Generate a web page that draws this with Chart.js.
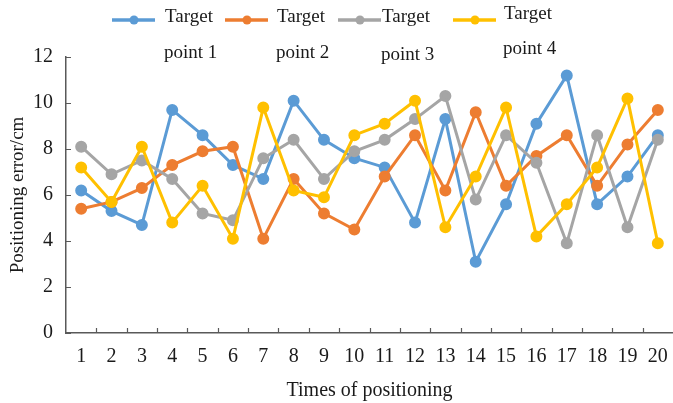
<!DOCTYPE html>
<html>
<head>
<meta charset="utf-8">
<script src="https://cdn.jsdelivr.net/npm/chart.js@4/dist/chart.umd.min.js"></script>
<style>
  html, body { margin: 0; padding: 0; background: #ffffff; }
  #wrap { width: 673px; height: 403px; }
</style>
</head>
<body>
<div id="wrap"><canvas id="c" width="673" height="403"></canvas></div>
<script>
// ---- data ----
const categories = ['1','2','3','4','5','6','7','8','9','10','11','12','13','14','15','16','17','18','19','20'];
const seriesNames = ['Target point 1', 'Target point 2', 'Target point 3', 'Target point 4'];
const target1 = [6.2, 5.3, 4.7, 9.7, 8.6, 7.3, 6.7, 10.1, 8.4, 7.6, 7.2, 4.8, 9.3, 3.1, 5.6, 9.1, 11.2, 5.6, 6.8, 8.6];
const target2 = [5.4, 5.7, 6.3, 7.3, 7.9, 8.1, 4.1, 6.7, 5.2, 4.5, 6.8, 8.6, 6.2, 9.6, 6.4, 7.7, 8.6, 6.4, 8.2, 9.7];
const target3 = [8.1, 6.9, 7.5, 6.7, 5.2, 4.9, 7.6, 8.4, 6.7, 7.9, 8.4, 9.3, 10.3, 5.8, 8.6, 7.4, 3.9, 8.6, 4.6, 8.4];
const target4 = [7.2, 5.7, 8.1, 4.8, 6.4, 4.1, 9.8, 6.2, 5.9, 8.6, 9.1, 10.1, 4.6, 6.8, 9.8, 4.2, 5.6, 7.2, 10.2, 3.9];
const yTicks = [0, 2, 4, 6, 8, 10, 12];
const xTitle = 'Times of positioning';
const yTitle = 'Positioning error/cm';

// ---- style ----
const colors = ['#5B9BD5', '#ED7D31', '#A5A5A5', '#FFC000'];
const FONT = '"Liberation Serif", "Times New Roman", serif';
const TXT = '#1a1a1a';
const AXIS = '#595959';
const legendLineX = [112, 225, 338, 453];
const legendTextX = [165, 277, 382, 504];
const legendRow1Y = [17, 17, 17, 14];
const legendRow2Y = [53, 53, 55, 49];

const seriesValues = [target1, target2, target3, target4];
const datasets = seriesValues.map((vals, i) => ({
  label: seriesNames[i],
  data: vals,
  borderColor: colors[i],
  backgroundColor: colors[i],
  pointBackgroundColor: colors[i],
  pointBorderColor: colors[i],
  borderWidth: 3,
  pointRadius: 4.5,
  pointHoverRadius: 4.5,
  tension: 0,
  clip: false,
  order: 3 - i
}));

const inwardTicks = {
  id: 'inwardTicks',
  afterDatasetsDraw(chart) {
    const ctx = chart.ctx;
    const x = chart.scales.x, y = chart.scales.y;
    const area = chart.chartArea;
    ctx.save();
    ctx.strokeStyle = AXIS;
    ctx.lineWidth = 1.2;
    ctx.beginPath();
    yTicks.forEach(v => {
      const py = Math.round(y.getPixelForValue(v)) + 0.5;
      ctx.moveTo(area.left, py);
      ctx.lineTo(area.left + 5, py);
    });
    for (let i = 0; i < categories.length - 1; i++) {
      const px = Math.round((x.getPixelForValue(i) + x.getPixelForValue(i + 1)) / 2) + 0.5;
      ctx.moveTo(px, area.bottom);
      ctx.lineTo(px, area.bottom - 5);
    }
    ctx.stroke();
    ctx.restore();
  }
};

const customLegend = {
  id: 'customLegend',
  afterDraw(chart) {
    const ctx = chart.ctx;
    ctx.save();
    chart.data.datasets.forEach((ds, i) => {
      const lx = legendLineX[i];
      const ly = 20;
      ctx.strokeStyle = ds.borderColor;
      ctx.lineWidth = 3.5;
      ctx.beginPath();
      ctx.moveTo(lx, ly);
      ctx.lineTo(lx + 43, ly);
      ctx.stroke();
      ctx.fillStyle = ds.borderColor;
      ctx.beginPath();
      ctx.arc(lx + 22, ly, 4.5, 0, Math.PI * 2);
      ctx.fill();
      const name = ds.label;
      const cut = name.indexOf(' ');
      const l1 = name.slice(0, cut), l2 = name.slice(cut + 1);
      ctx.fillStyle = TXT;
      ctx.font = '19px ' + FONT;
      ctx.textAlign = 'left';
      ctx.textBaseline = 'middle';
      ctx.fillText(l1, legendTextX[i], legendRow1Y[i]);
      ctx.fillText(l2, legendTextX[i] - 1, legendRow2Y[i]);
    });
    ctx.restore();
  }
};

new Chart(document.getElementById('c'), {
  type: 'line',
  data: { labels: categories, datasets },
  options: {
    responsive: false,
    animation: false,
    devicePixelRatio: 1,
    layout: { autoPadding: false, padding: { top: 57, left: 0, right: 0, bottom: 0 } },
    plugins: {
      legend: { display: false },
      tooltip: { enabled: false },
      title: { display: false }
    },
    scales: {
      x: {
        type: 'category',
        offset: true,
        grid: { display: true, drawOnChartArea: false, drawTicks: false, color: 'rgba(0,0,0,0)' },
        border: { display: true, color: AXIS, width: 1.5 },
        ticks: { color: TXT, font: { family: FONT, size: 20 }, padding: 12, maxRotation: 0, autoSkip: false },
        title: { display: true, text: xTitle, color: TXT, font: { family: FONT, size: 20 }, padding: { top: 1, bottom: 0 } },
        afterFit(s) { s.height = 70; s.paddingLeft = 0; s.paddingRight = 0; }
      },
      y: {
        min: 0,
        max: 12,
        grid: { display: true, drawOnChartArea: false, drawTicks: false, color: 'rgba(0,0,0,0)' },
        border: { display: true, color: AXIS, width: 1.5 },
        ticks: {
          stepSize: 2,
          color: TXT,
          font: { family: FONT, size: 20 },
          padding: 13,
          callback: (v) => yTicks.includes(v) ? String(v) : ''
        },
        title: { display: true, text: yTitle, color: TXT, font: { family: FONT, size: 19 }, padding: { top: 7, bottom: 0 } },
        afterFit(s) { s.width = 66; s.paddingTop = 0; s.paddingBottom = 0; }
      }
    }
  },
  plugins: [inwardTicks, customLegend]
});
</script>
</body>
</html>
